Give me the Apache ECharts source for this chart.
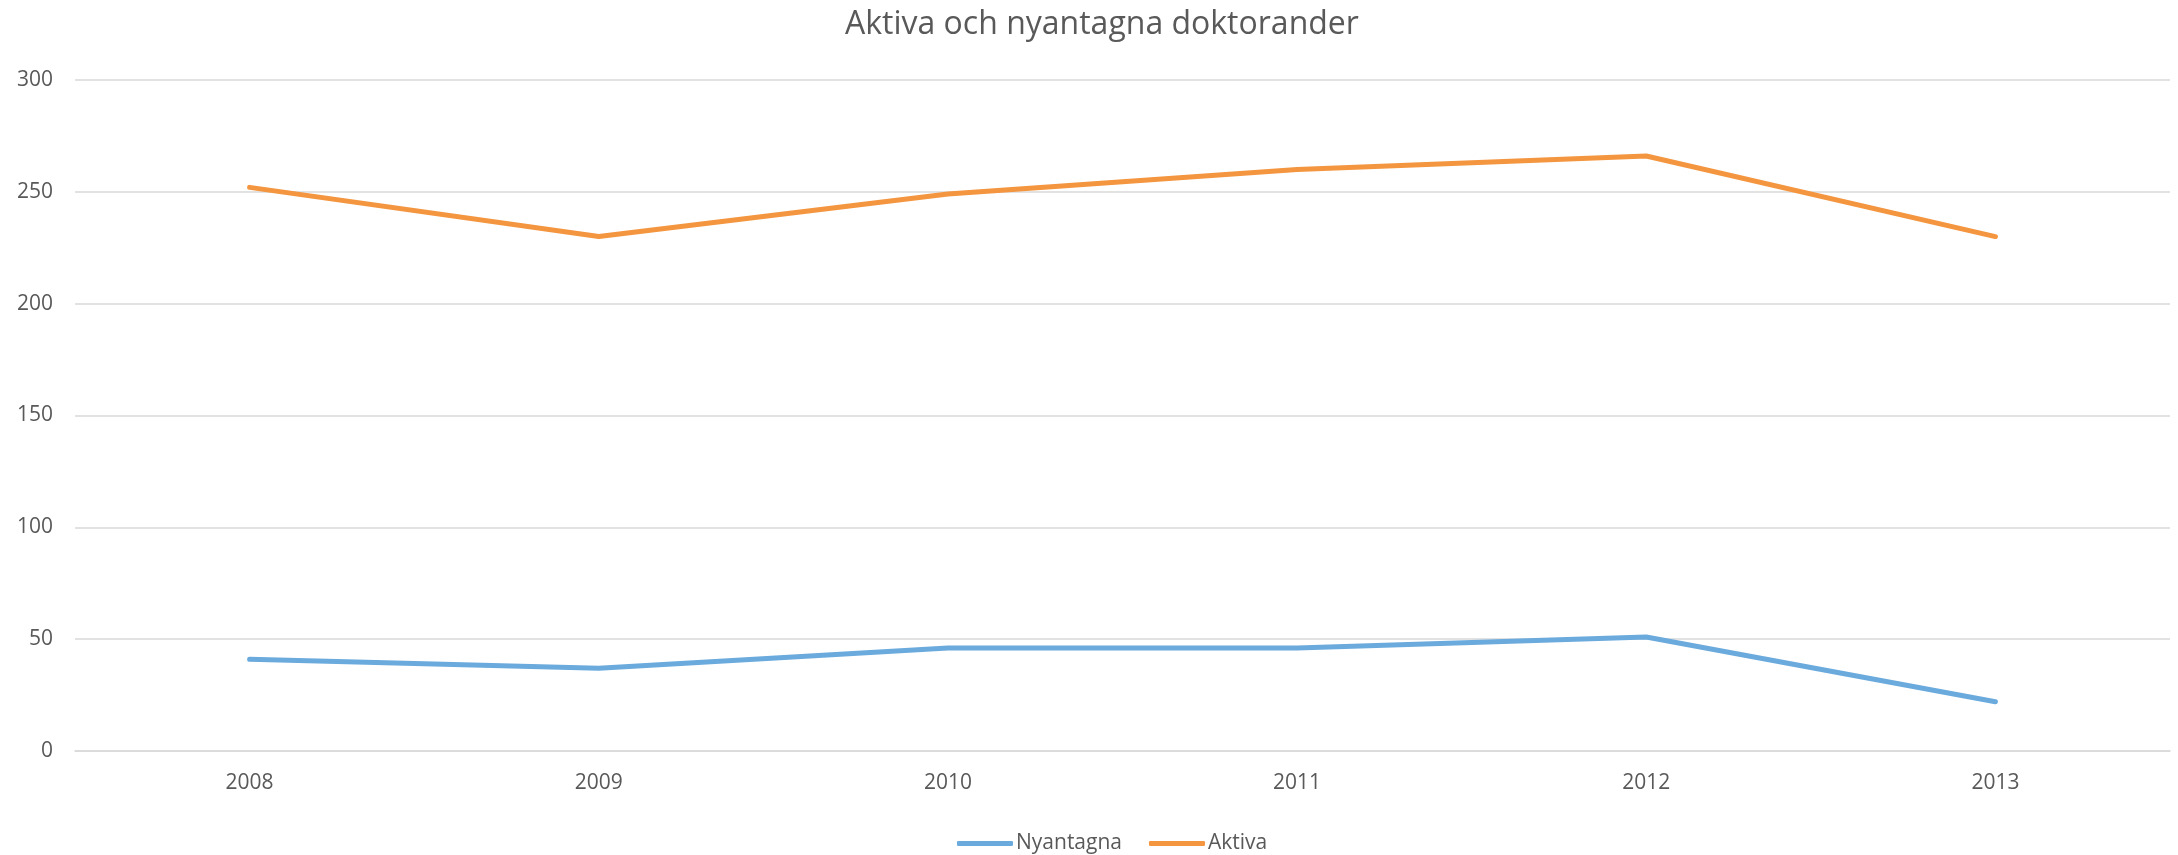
<!DOCTYPE html>
<html>
<head>
  <meta charset="utf-8">
  <script src="https://cdn.jsdelivr.net/npm/echarts@6.0.0/dist/echarts.min.js"></script>
</head>
<body style="margin:0;">
<div id="main" style="width:2178px;height:855px;"></div>

<script type="text/javascript">
var years = ['2008', '2009', '2010', '2011', '2012', '2013'];
var nyantagna = [41, 37, 46, 46, 51, 22];
var aktiva = [252, 230, 249, 260, 266, 230];

var textColor = '#595959';
var gridColor = '#D9D9D9';
var fontName = 'Open Sans';

var myChart = echarts.init(document.getElementById('main'));

myChart.setOption({
    animation: false,
    title: {
        text: 'Aktiva och nyantagna doktorander',
        left: 840,
        top: 4,
        textStyle: {
            color: textColor,
            fontFamily: fontName,
            fontWeight: 'normal',
            fontSize: 32
        }
    },
    legend: {
        top: 828,
        left: 952,
        icon: 'roundRect',
        itemWidth: 56,
        itemHeight: 5,
        itemGap: 27,
        textStyle: {
            color: textColor,
            fontFamily: fontName,
            fontSize: 21,
            padding: [0, 0, 0, -2]
        },
        data: ['Nyantagna', 'Aktiva']
    },
    grid: {
        left: 75,
        right: 8,
        top: 80,
        bottom: 104
    },
    xAxis: {
        type: 'category',
        data: years,
        boundaryGap: true,
        axisLine: { show: true, lineStyle: { color: gridColor, width: 1.5 } },
        axisTick: { show: false },
        axisLabel: {
            color: textColor,
            fontFamily: fontName,
            fontSize: 21,
            margin: 22
        }
    },
    yAxis: {
        type: 'value',
        min: 0,
        max: 300,
        interval: 50,
        axisLine: { show: false },
        axisTick: { show: false },
        splitLine: { lineStyle: { color: gridColor, width: 1.5 } },
        axisLabel: {
            color: textColor,
            fontFamily: fontName,
            fontSize: 21,
            margin: 22
        }
    },
    series: [
        {
            name: 'Nyantagna',
            type: 'line',
            data: nyantagna,
            showSymbol: false,
            symbol: 'none',
            itemStyle: { color: '#6BAADC' },
            lineStyle: { color: '#6BAADC', width: 5, cap: 'round', join: 'round' }
        },
        {
            name: 'Aktiva',
            type: 'line',
            data: aktiva,
            showSymbol: false,
            symbol: 'none',
            itemStyle: { color: '#F4953F' },
            lineStyle: { color: '#F4953F', width: 5, cap: 'round', join: 'round' }
        }
    ]
});
</script>
</body>
</html>
